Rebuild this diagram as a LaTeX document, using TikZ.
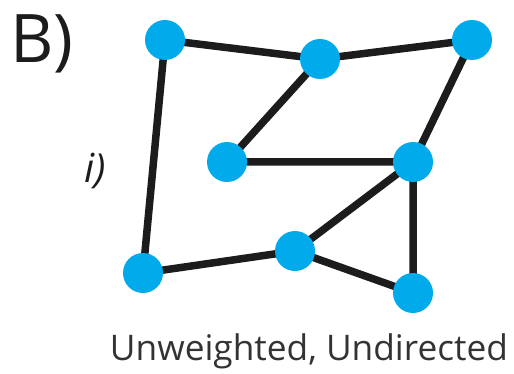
\documentclass[tikz,border=0pt]{standalone}
\usepackage{fontspec}
\setmainfont{Open Sans}
\usetikzlibrary{backgrounds}
\definecolor{nodecyan}{RGB}{0,170,235}
\definecolor{edgeblack}{RGB}{28,28,28}
\begin{document}
\begin{tikzpicture}[x=1pt,y=-1pt,
  vert/.style={circle,fill=nodecyan,draw=none,minimum size=40pt,inner sep=0pt},
  edge/.style={draw=edgeblack,line width=7.5pt}]
\useasboundingbox (0,0) rectangle (514,374);
\node[vert] (A) at (165,40) {};
\node[vert] (B) at (320,59) {};
\node[vert] (C) at (472,40) {};
\node[vert] (D) at (227,162) {};
\node[vert] (E) at (413,162) {};
\node[vert] (F) at (143,273) {};
\node[vert] (G) at (295,251) {};
\node[vert] (H) at (413,293) {};
\begin{scope}[on background layer]
\path[edge] (A.center) -- (B.center) (B.center) -- (C.center) (A.center) -- (F.center)
  (B.center) -- (D.center) (C.center) -- (E.center) (D.center) -- (E.center)
  (E.center) -- (G.center) (E.center) -- (H.center) (F.center) -- (G.center)
  (G.center) -- (H.center);
\end{scope}
\node[anchor=base west,inner sep=0pt,text=edgeblack,font=\fontsize{67}{67}\selectfont] (lblB) at (10,63) {B)};
\node[anchor=base west,inner sep=0pt,text=edgeblack,font=\fontsize{40}{40}\itshape] (lbli) at (84,183) {i)};
\node[anchor=base,inner sep=0pt,text=edgeblack!90] (cap) at (309,360) {\resizebox{398pt}{!}{\fontsize{36}{36}\selectfont Unweighted, Undirected}};
\end{tikzpicture}
\end{document}
